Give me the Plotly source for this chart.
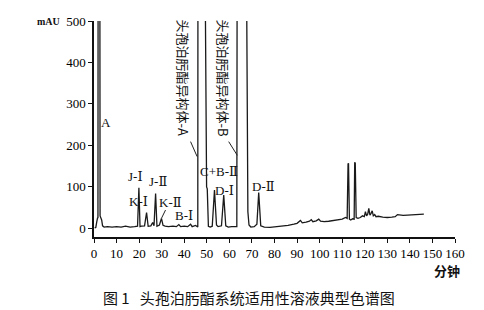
import plotly.graph_objects as go

time_min = [0.3, 0.8, 1.2, 1.6, 1.75, 1.85, 2.55, 2.7, 3.0, 3.4, 3.8, 4.5, 6, 8, 10, 12, 14, 16, 18,
            19.3, 19.9, 20.4, 21, 22.4, 23.3, 24.0, 25.2, 26.0, 26.6, 27.3, 27.9, 29.0, 29.9, 30.6,
            31.5, 33, 35, 36.5, 37.6, 38.4, 40, 41.5, 42.8, 43.5, 45.0, 45.6,
            46.0, 46.1, 48.9, 49.9, 50.2, 50.7, 51.5, 52.4, 53.4, 54.3, 55, 56.5, 57.5, 58.4,
            59.5, 61, 62.5, 63.3,
            63.5, 67.3, 68.2, 68.7, 69.5, 71.0, 72.2, 73.0, 73.9, 75.5, 78, 80, 83, 86, 88.6,
            90, 91.5, 92.3, 94, 95.5, 96.3, 97, 98.5, 99.6, 100.4, 102, 104, 105.5, 107, 108.5,
            110, 111.5, 112.2, 112.6, 112.8, 113.2, 113.8, 114.6, 115.3, 115.55, 115.8, 116.2,
            117, 118, 119, 119.8, 120.3, 120.8, 121.3, 121.8, 122.3, 122.8, 123.3, 123.8, 124.4,
            125, 126, 128, 130, 132, 133.5, 134.5, 135.5, 137, 139, 141, 143, 144.5, 146.2]
signal_mau = [1, 2, 15, 26, 24, 900, 900, 30, 27, 20, 6, 3, 4, 3, 4, 3, 5, 3, 4,
              5, 98, 4, 5, 6, 38, 5, 6, 14, 6, 84, 5, 8, 24, 7,
              5, 4, 5, 4, 9, 4, 5, 4, 10, 4, 7, 3,
              3, 900, 900, 100, 95, 5, 3, 5, 92, 8, 4, 6, 80, 6,
              3, 4, 3, 4,
              900, 900, 40, 8, 3, 4, 10, 86, 6, 3, 2, 3, 5, 7, 10,
              12, 19, 13, 15, 17, 21, 16, 18, 22, 17, 16, 17, 18, 19, 21,
              22, 26, 24, 155, 157, 22, 20, 23, 22, 159, 157, 26,
              24, 26, 30, 28, 40, 30, 34, 48, 32, 36, 42, 30, 33,
              28, 29, 27, 26, 27, 28, 33, 32, 31, 32, 33, 33, 34, 34]

x_ticks = list(range(0, 161, 10))
y_ticks = [0, 100, 200, 300, 400, 500]

peak_labels = ["A", "J-Ⅰ", "K-Ⅰ", "J-Ⅱ", "K-Ⅱ", "B-Ⅰ", "C+B-Ⅱ", "D-Ⅰ", "D-Ⅱ"]
peak_label_t = [5.5, 18.6, 19.9, 28.4, 33.9, 40.1, 55.6, 57.9, 75.2]
peak_label_v = [256, 124, 64, 112, 62, 32, 136, 92, 102]

isomer_labels = ["头孢泊肟酯异构体-A", "头孢泊肟酯异构体-B"]
isomer_label_t = [39.8, 57.5]

fig = go.Figure()
fig.add_trace(go.Scatter(x=time_min, y=signal_mau, mode="lines",
                         line=dict(color="#1a1a1a", width=1.3), hoverinfo="skip"))

serif = "Liberation Serif, DejaVu Serif, serif"
annotations = []
for txt, t, v in zip(peak_labels, peak_label_t, peak_label_v):
    annotations.append(dict(x=t, y=v, xref="x", yref="y", text=txt, showarrow=False,
                            font=dict(family=serif, size=13, color="#111")))
for txt, t in zip(isomer_labels, isomer_label_t):
    annotations.append(dict(x=t, y=362, xref="x", yref="y", text=txt, showarrow=False,
                            textangle=90,
                            font=dict(family="Noto Sans CJK SC", size=13, color="#111")))
annotations += [
    dict(x=-0.088, y=1.0, xref="paper", yref="paper", text="<b>mAU</b>", showarrow=False,
         xanchor="right", yanchor="middle", font=dict(family=serif, size=10, color="#111")),
    dict(x=1.02, y=-0.155, xref="paper", yref="paper", text="<b>分钟</b>", showarrow=False,
         xanchor="right", yanchor="middle", font=dict(family="Noto Sans CJK SC", size=13, color="#111")),
    dict(x=0.429, y=-0.278, xref="paper", yref="paper", text="图 1   头孢泊肟酯系统适用性溶液典型色谱图",
         showarrow=False, xanchor="center", yanchor="middle",
         font=dict(family="Noto Sans CJK SC", size=15, color="#111")),
]

shapes = [
    dict(type="line", xref="x", yref="y", x0=42.8, y0=209, x1=45.7, y1=173, line=dict(color="#222", width=1)),
    dict(type="line", xref="x", yref="y", x0=59.7, y0=209, x1=63.5, y1=176, line=dict(color="#222", width=1)),
    dict(type="line", xref="x", yref="y", x0=31.7, y0=44, x1=29.9, y1=24, line=dict(color="#222", width=1)),
]

fig.update_layout(
    width=484, height=310,
    margin=dict(l=94, r=29, t=21, b=73),
    paper_bgcolor="white", plot_bgcolor="white",
    showlegend=False,
    annotations=annotations,
    shapes=shapes,
    xaxis=dict(range=[0, 160], tickvals=x_ticks, ticktext=[str(v) for v in x_ticks],
               showgrid=False, zeroline=False, showline=True, linecolor="#111", linewidth=1.5,
               ticks="outside", ticklen=4, tickcolor="#111", tickwidth=1,
               tickfont=dict(family=serif, size=13, color="#000")),
    yaxis=dict(range=[-21, 500], tickvals=y_ticks, ticktext=[str(v) for v in y_ticks],
               showgrid=False, zeroline=False, showline=True, linecolor="#111", linewidth=1.5,
               ticks="outside", ticklen=4, tickcolor="#111", tickwidth=1,
               tickfont=dict(family=serif, size=13, color="#000")),
)

fig.write_html("out.html")
